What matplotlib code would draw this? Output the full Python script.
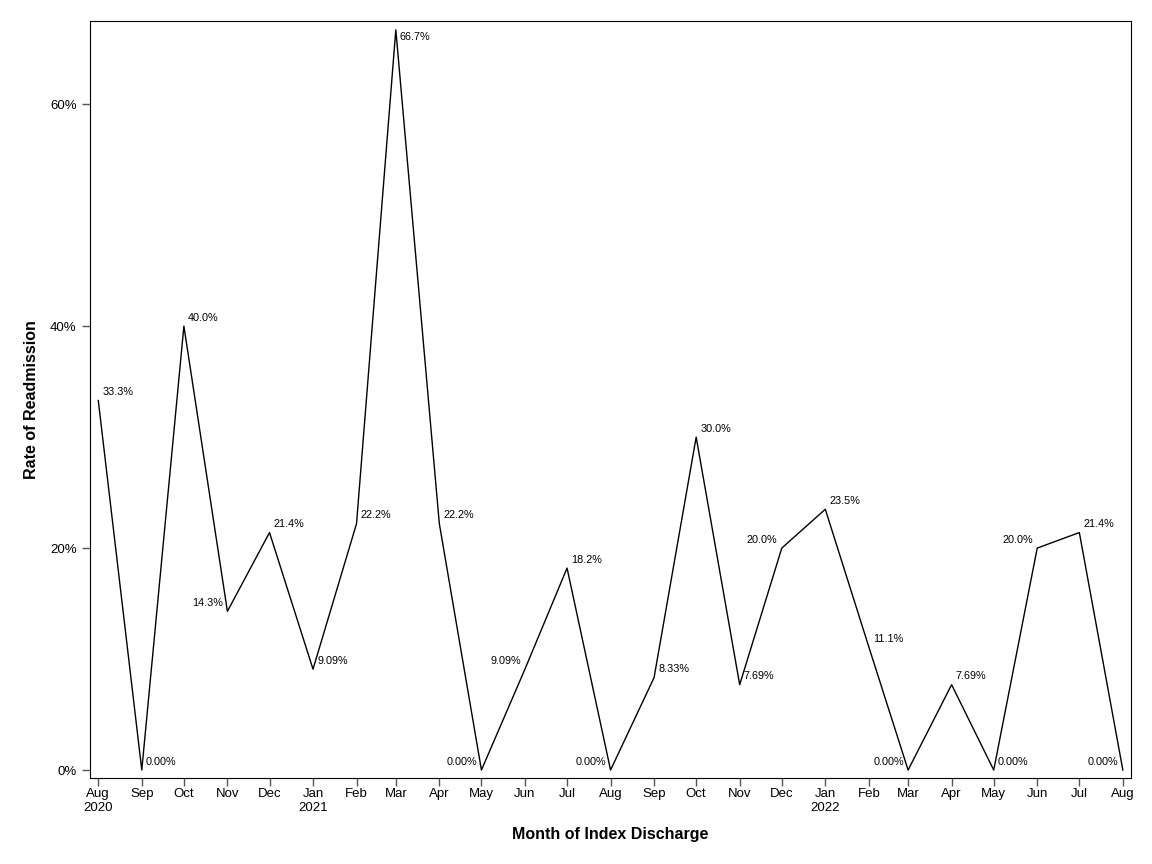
import datetime as dt
import matplotlib
matplotlib.use("Agg")
import matplotlib.pyplot as plt
import matplotlib.dates as mdates
from matplotlib.ticker import FuncFormatter

plt.rcParams['font.family'] = ['Liberation Sans', 'DejaVu Sans']

months = ["2020-08", "2020-09", "2020-10", "2020-11", "2020-12", "2021-01",
          "2021-02", "2021-03", "2021-04", "2021-05", "2021-06", "2021-07",
          "2021-08", "2021-09", "2021-10", "2021-11", "2021-12", "2022-01",
          "2022-02", "2022-03", "2022-04", "2022-05", "2022-06", "2022-07",
          "2022-08"]
rates = [0.333, 0.0, 0.400, 0.143, 0.214, 0.0909, 0.222, 0.667, 0.222, 0.0,
         0.0909, 0.182, 0.0, 0.0833, 0.300, 0.0769, 0.200, 0.235, 0.111, 0.0,
         0.0769, 0.0, 0.200, 0.214, 0.0]
labels = ["33.3%", "0.00%", "40.0%", "14.3%", "21.4%", "9.09%", "22.2%", "66.7%",
          "22.2%", "0.00%", "9.09%", "18.2%", "0.00%", "8.33%", "30.0%", "7.69%",
          "20.0%", "23.5%", "11.1%", "0.00%", "7.69%", "0.00%", "20.0%", "21.4%",
          "0.00%"]
# label side: 'r' upper right, 'l' upper left, 'd' lower right
sides = ["r", "r", "r", "l", "r", "r", "r", "d", "r", "l", "l", "r", "l", "r",
         "r", "r", "l", "r", "r", "l", "r", "r", "l", "r", "l"]

dates = [dt.datetime.strptime(m, "%Y-%m") for m in months]

fig = plt.figure(figsize=(11.52, 8.64), dpi=100)
ax = fig.add_axes([0.078, 0.0995, 0.904, 0.876])

ax.plot(dates, rates, color="black", linewidth=1)

for d, v, t, s in zip(dates, rates, labels, sides):
    if s == "r":
        ax.annotate(t, (d, v), xytext=(3, 6), textcoords="offset points",
                    ha="left", va="center", fontsize=7.8)
    elif s == "l":
        ax.annotate(t, (d, v), xytext=(-3, 6), textcoords="offset points",
                    ha="right", va="center", fontsize=7.8)
    else:
        ax.annotate(t, (d, v), xytext=(3, -5), textcoords="offset points",
                    ha="left", va="center", fontsize=7.8)

ax.set_xlim(dates[0] - dt.timedelta(days=6), dates[-1] + dt.timedelta(days=6))
ax.set_ylim(-0.0072, 0.6748)

ax.xaxis.set_major_locator(mdates.MonthLocator())


def month_fmt(x, pos):
    d = mdates.num2date(x)
    s = d.strftime("%b")
    if pos == 0 or d.month == 1:
        s += "\n" + d.strftime("%Y")
    return s


ax.xaxis.set_major_formatter(FuncFormatter(month_fmt))
ax.set_yticks([0, 0.2, 0.4, 0.6])
ax.yaxis.set_major_formatter(FuncFormatter(lambda y, p: f"{y * 100:.0f}%"))

ax.tick_params(axis="both", direction="out", length=6, width=1,
               color="#555555", labelsize=9.5)
ax.tick_params(axis="x", pad=1.5)

ax.set_xlabel("Month of Index Discharge", fontsize=11.5, fontweight="bold", labelpad=9)
ax.set_ylabel("Rate of Readmission", fontsize=11.5, fontweight="bold", labelpad=8)

fig.savefig("out.png", dpi=100)
